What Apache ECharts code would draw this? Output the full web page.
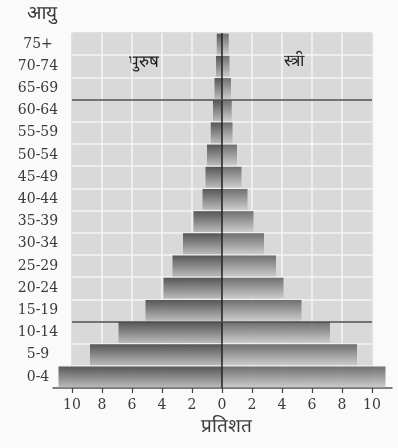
<!DOCTYPE html>
<html>
<head>
<meta charset="utf-8">
<script src="https://cdn.jsdelivr.net/npm/echarts@6/dist/echarts.min.js"></script>
<style>
  html, body { margin: 0; padding: 0; background: #fafafa; }
  #chart { width: 398px; height: 448px; }
</style>
</head>
<body>
<div id="chart"></div>
<script>
// Age groups, bottom to top
const ageGroups = ['0-4', '5-9', '10-14', '15-19', '20-24', '25-29', '30-34', '35-39',
  '40-44', '45-49', '50-54', '55-59', '60-64', '65-69', '70-74', '75+'];
// Share of population (%) per age group
const male   = [10.9, 8.8, 6.9, 5.1, 3.9, 3.3, 2.6, 1.9, 1.3, 1.1, 1.0, 0.75, 0.6, 0.5, 0.4, 0.35];
const female = [10.9, 9.0, 7.2, 5.3, 4.1, 3.6, 2.8, 2.1, 1.7, 1.3, 1.0, 0.7, 0.65, 0.6, 0.5, 0.45];
// Boundaries (in row units from the bottom) of the highlighted age bands
const bandBreaks = [3, 13];

const serif = '"DejaVu Serif", "Liberation Serif", serif';
const deva = 'serif';
const ink = '#3a3a3a';

const chart = echarts.init(document.getElementById('chart'));

function barFill(top, bottom) {
  return new echarts.graphic.LinearGradient(0, 0, 0, 1, [
    { offset: 0, color: top },
    { offset: 1, color: bottom }
  ]);
}

chart.setOption({
  backgroundColor: '#fafafa',
  animation: false,
  grid: [
    { left: 72, right: 26, top: 33, bottom: 60, show: true,
      backgroundColor: '#d9d9d9', borderColor: '#4a4a4a', borderWidth: 1 },
    // wider strip that carries the long baseline under the plot
    { left: 53, right: 6, top: 33, bottom: 60 }
  ],
  xAxis: [
    {
      type: 'value', gridIndex: 0, min: -10, max: 10, interval: 2,
      axisLine: { show: false },
      axisTick: { show: true, length: 5, inside: false, lineStyle: { color: '#444', width: 1.2 } },
      axisLabel: { formatter: v => Math.abs(v), fontFamily: serif, fontSize: 14, color: ink, margin: 10 },
      splitLine: { show: true, lineStyle: { color: '#f4f4f4', width: 1.5 } }
    },
    {
      type: 'value', gridIndex: 1, min: 0, max: 1,
      axisLine: { show: true, onZero: false, lineStyle: { color: '#555', width: 1.5 } },
      axisTick: { show: false }, axisLabel: { show: false }, splitLine: { show: false }
    }
  ],
  yAxis: [
    {
      type: 'category', gridIndex: 0, data: ageGroups,
      axisLine: { show: false }, axisTick: { show: false },
      axisLabel: { fontFamily: serif, fontSize: 14, color: ink, align: 'center', margin: 34 },
      splitLine: { show: true, lineStyle: { color: '#f4f4f4', width: 1.5 } }
    },
    {
      type: 'value', gridIndex: 0, min: 0, max: ageGroups.length, show: false
    },
    {
      type: 'category', gridIndex: 1, data: ageGroups, show: false
    }
  ],
  series: [
    {
      name: 'पुरुष', type: 'bar', stack: 'pop', xAxisIndex: 0, yAxisIndex: 0,
      data: male.map(v => -v), clip: false, barCategoryGap: '6%',
      itemStyle: { color: barFill('#505050', '#b8b8b8'), opacity: 0.95 },
      markLine: {
        silent: true, symbol: 'none', label: { show: false },
        lineStyle: { color: '#222', type: 'solid', width: 1.5 },
        data: [{ xAxis: 0 }]
      },
      z: 3
    },
    {
      name: 'स्त्री', type: 'bar', stack: 'pop', xAxisIndex: 0, yAxisIndex: 0,
      data: female, clip: false, barCategoryGap: '6%',
      itemStyle: { color: barFill('#6a6a6a', '#cacaca'), opacity: 0.95 },
      z: 3
    },
    {
      type: 'line', xAxisIndex: 0, yAxisIndex: 1, data: [], silent: true,
      markLine: {
        silent: true, symbol: 'none', label: { show: false },
        lineStyle: { color: '#4a4a4a', type: 'solid', width: 1.5 },
        data: bandBreaks.map(b => ({ yAxis: b }))
      },
      z: 4
    },
    {
      type: 'bar', xAxisIndex: 1, yAxisIndex: 2, data: [], silent: true
    }
  ],
  graphic: [
    { type: 'text', left: 27, top: 5, style: { text: 'आयु', fontSize: 19, fill: ink, fontFamily: deva } },
    { type: 'text', left: 129, top: 54, style: { text: 'पुरुष', fontSize: 17, fill: '#222', fontFamily: deva } },
    { type: 'text', left: 284, top: 53, style: { text: 'स्त्री', fontSize: 17, fill: '#222', fontFamily: deva } },
    { type: 'text', left: 201, top: 418, style: { text: 'प्रतिशत', fontSize: 19, fill: ink, fontFamily: deva } }
  ]
});
</script>
</body>
</html>
